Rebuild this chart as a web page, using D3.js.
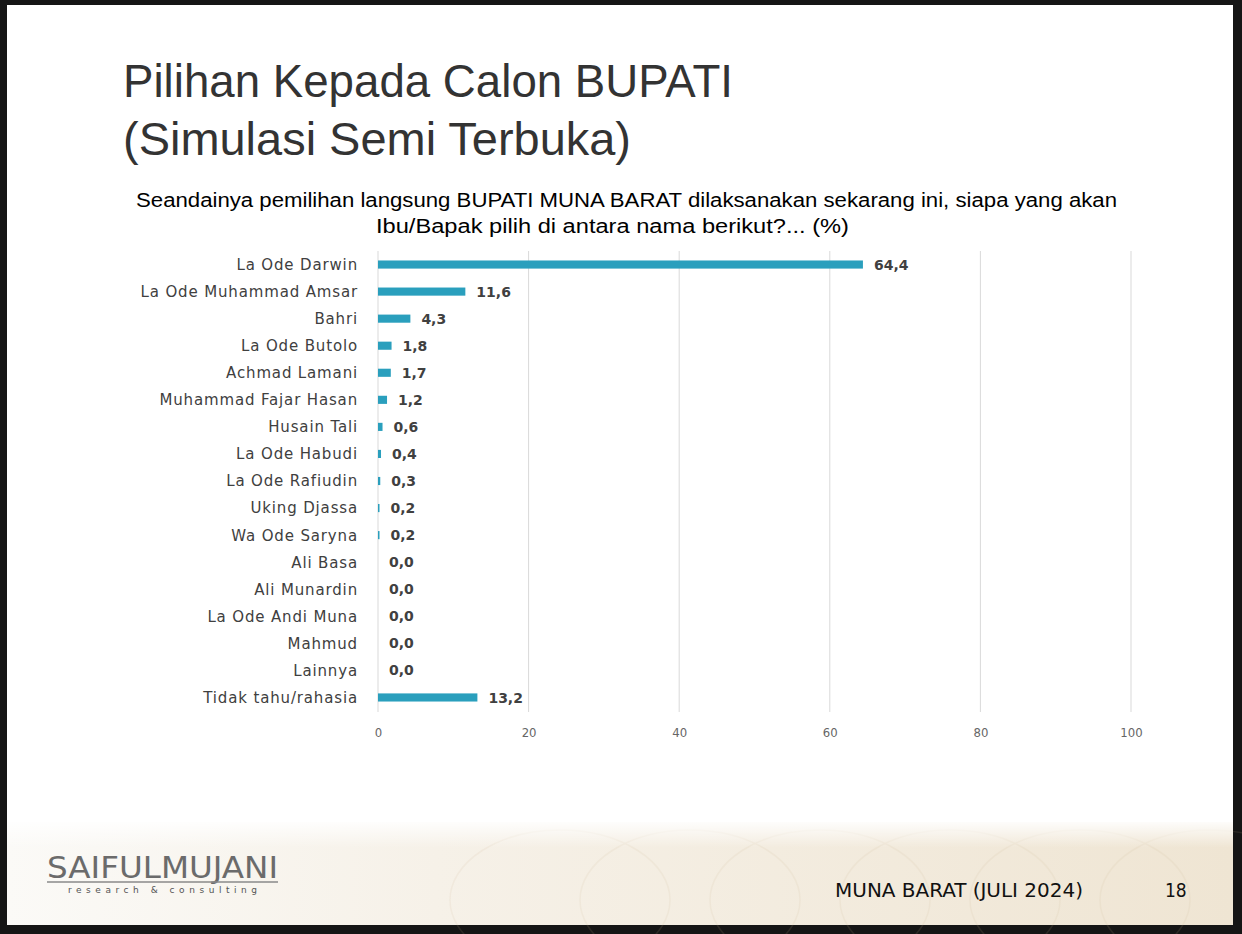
<!DOCTYPE html>
<html><head><meta charset="utf-8">
<script src="https://cdn.jsdelivr.net/npm/d3@7/dist/d3.min.js"></script>
<style>html,body{margin:0;padding:0;background:#151515;overflow:hidden}</style>
</head><body>
<script>
const categories = ["La Ode Darwin","La Ode Muhammad Amsar","Bahri","La Ode Butolo","Achmad Lamani","Muhammad Fajar Hasan","Husain Tali","La Ode Habudi","La Ode Rafiudin","Uking Djassa","Wa Ode Saryna","Ali Basa","Ali Munardin","La Ode Andi Muna","Mahmud","Lainnya","Tidak tahu/rahasia"];
const values = [64.4,11.6,4.3,1.8,1.7,1.2,0.6,0.4,0.3,0.2,0.2,0.0,0.0,0.0,0.0,0.0,13.2];
const xTicks = [0,20,40,60,80,100];
const titleLines = ["Pilihan Kepada Calon BUPATI","(Simulasi Semi Terbuka)"];
const subtitleLines = ["Seandainya pemilihan langsung BUPATI MUNA BARAT dilaksanakan sekarang ini, siapa yang akan","Ibu/Bapak pilih di antara nama berikut?... (%)"];

const W=1242,H=934;
const svg=d3.select("body").append("svg").attr("width",W).attr("height",H);
const defs=svg.append("defs");
const g1=defs.append("linearGradient").attr("id","foot").attr("x1","0").attr("x2","1").attr("y1","0").attr("y2","0");
g1.append("stop").attr("offset","0").attr("stop-color","#fbfaf7");
g1.append("stop").attr("offset","0.35").attr("stop-color","#f6f1e8");
g1.append("stop").attr("offset","1").attr("stop-color","#efe5d3");
const g2=defs.append("linearGradient").attr("id","footv").attr("x1","0").attr("x2","0").attr("y1","0").attr("y2","1");
g2.append("stop").attr("offset","0").attr("stop-color","#ffffff").attr("stop-opacity","0.9");
g2.append("stop").attr("offset","0.25").attr("stop-color","#ffffff").attr("stop-opacity","0");

// slide
svg.append("rect").attr("x",7).attr("y",5).attr("width",1226).attr("height",920).attr("fill","#ffffff");
svg.append("rect").attr("x",7).attr("y",822).attr("width",1226).attr("height",103).attr("fill","url(#foot)");
const pat=svg.append("g").attr("opacity",0.12);
for(let i=0;i<6;i++){
  pat.append("ellipse").attr("cx",560+i*130).attr("cy",900).attr("rx",110).attr("ry",70).attr("fill","none").attr("stroke","#cdb894").attr("stroke-width",1.5);
}
svg.append("rect").attr("x",7).attr("y",822).attr("width",1226).attr("height",103).attr("fill","url(#footv)");
svg.append("rect").attr("x",7).attr("y",5).attr("width",1226).attr("height",817).attr("fill","#ffffff");

// title
const tl=[610,508];
titleLines.forEach((l,i)=>svg.append("text").attr("font-family","Liberation Sans, Arial, sans-serif").attr("font-size",46).attr("fill","#333333")
  .attr("x",123).attr("y",97+i*58).attr("textLength",tl[i]).attr("lengthAdjust","spacingAndGlyphs").text(l));
const sl=[[136,981],[376,473]];
subtitleLines.forEach((l,i)=>svg.append("text").attr("font-family","Liberation Sans, Arial, sans-serif").attr("font-size",20).attr("fill","#000")
  .attr("x",sl[i][0]).attr("y",207+i*26).attr("textLength",sl[i][1]).attr("lengthAdjust","spacingAndGlyphs").text(l));

// chart
const x=d3.scaleLinear().domain([0,100]).range([378,1131]);
const y=d3.scaleBand().domain(categories).range([251,711]).paddingInner(0.7).paddingOuter(0.35);
const grid=svg.append("g");
grid.selectAll("line").data(xTicks).join("line")
  .attr("x1",d=>x(d)).attr("x2",d=>x(d)).attr("y1",251).attr("y2",712)
  .attr("stroke","#d9d9d9").attr("stroke-width",1);
const ax=svg.append("g").attr("transform","translate(0,712)")
  .call(d3.axisBottom(x).tickValues(xTicks).tickSize(0).tickPadding(16));
ax.select(".domain").remove();
ax.selectAll("text").attr("font-family","DejaVu Sans Condensed, DejaVu Sans, sans-serif").attr("font-size",13).attr("fill","#666");

svg.append("g").selectAll("rect").data(values).join("rect")
  .attr("x",x(0)).attr("y",(d,i)=>y(categories[i])).attr("height",y.bandwidth())
  .attr("width",d=>x(d)-x(0)).attr("fill","#2a9fbd");

svg.append("g").selectAll("text").data(categories).join("text")
  .attr("x",358).attr("y",d=>y(d)+y.bandwidth()/2).attr("dy","0.36em")
  .attr("text-anchor","end").attr("font-family","DejaVu Sans, Verdana, sans-serif").attr("font-size",15).attr("letter-spacing","0.85px").attr("fill","#404040")
  .text(d=>d);

svg.append("g").selectAll("text").data(values).join("text")
  .attr("x",d=>x(d)+11).attr("y",(d,i)=>y(categories[i])+y.bandwidth()/2).attr("dy","0.36em")
  .attr("font-family","DejaVu Sans, Verdana, sans-serif").attr("font-weight","bold").attr("font-size",14).attr("fill","#404040")
  .text(d=>d.toFixed(1).replace(".",","));

// footer
svg.append("text").attr("x",47).attr("y",878).attr("font-family","DejaVu Sans Condensed, sans-serif").attr("font-weight","200").attr("font-size",31).attr("fill","#6b6b6b").attr("textLength",231).attr("lengthAdjust","spacingAndGlyphs").text("SAIFULMUJANI");
svg.append("line").attr("x1",47).attr("x2",278).attr("y1",882).attr("y2",882).attr("stroke","#8a8a8a").attr("stroke-width",1.5);
svg.append("text").attr("x",68).attr("y",893).attr("font-family","DejaVu Sans, sans-serif").attr("font-size",9).attr("fill","#555").attr("textLength",189).attr("lengthAdjust","spacing").text("research & consulting");
svg.append("text").attr("x",835).attr("y",897).attr("font-family","DejaVu Sans Condensed, sans-serif").attr("font-size",19).attr("fill","#111").attr("textLength",248).attr("lengthAdjust","spacingAndGlyphs").text("MUNA BARAT (JULI 2024)");
svg.append("text").attr("x",1165).attr("y",897).attr("font-family","DejaVu Sans Condensed, sans-serif").attr("font-size",19).attr("fill","#111").text("18");
</script>
</body></html>
